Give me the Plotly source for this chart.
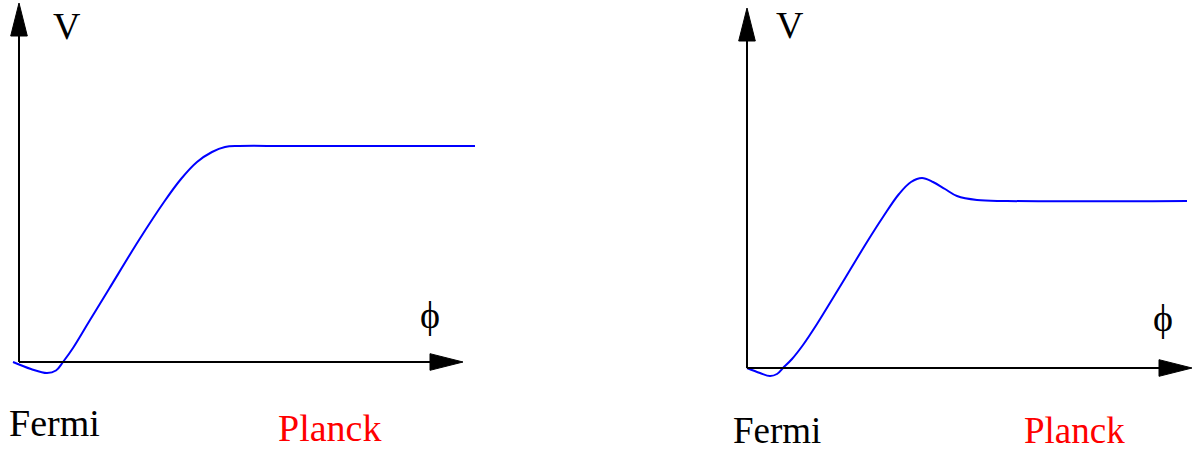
import plotly.graph_objects as go

# potential curves (phi, V); 1 unit = 100 px
left_phi = [-0.06, 0.12, 0.28, 0.37, 0.44, 0.54, 0.71, 0.90, 1.20, 1.45, 1.62, 1.78,
            1.93, 2.06, 2.20, 2.70, 4.56]
left_v = [0.0, -0.07, -0.11, -0.085, 0.0, 0.14, 0.42, 0.73, 1.22, 1.60, 1.83, 2.00,
          2.10, 2.15, 2.16, 2.16, 2.16]

right_phi = [0.0, 0.13, 0.23, 0.30, 0.36, 0.45, 0.56, 0.70, 0.86, 1.03, 1.20, 1.36,
             1.52, 1.64, 1.75, 1.86, 1.98, 2.10, 2.30, 2.60, 4.40]
right_v = [0.0, -0.05, -0.08, -0.06, 0.0, 0.09, 0.23, 0.44, 0.70, 0.98, 1.26, 1.51,
           1.74, 1.86, 1.90, 1.86, 1.79, 1.72, 1.68, 1.67, 1.67]

# axis extents (tip of each arrow) per panel
axis_tips = {"left": (4.44, 3.59), "right": (4.45, 3.60)}

# label text, position and size per panel
labels_left = [("V", 0.475, 3.365, 38), ("ϕ", 4.11, 0.47, 38),
               ("Fermi", 0.355, -0.605, 38), ("Planck", 3.10, -0.655, 38)]
labels_right = [("V", 0.43, 3.43, 38), ("ϕ", 4.16, 0.50, 38),
                ("Fermi", 0.297, -0.625, 37), ("Planck", 3.27, -0.625, 37)]

FONT = '"Liberation Serif", "Times New Roman", Times, serif'
ARROW_LEN = 0.33
ARROW_HALF = 0.083

fig = go.Figure()
fig.add_trace(go.Scatter(x=left_phi, y=left_v, mode="lines", xaxis="x", yaxis="y",
                         line=dict(color="#0000ff", width=2, shape="spline", smoothing=1.0),
                         showlegend=False, hoverinfo="skip"))
fig.add_trace(go.Scatter(x=right_phi, y=right_v, mode="lines", xaxis="x2", yaxis="y2",
                         line=dict(color="#0000ff", width=2, shape="spline", smoothing=1.0),
                         showlegend=False, hoverinfo="skip"))

shapes = []
annotations = []
for panel, xr, yr, labels in [("left", "x", "y", labels_left), ("right", "x2", "y2", labels_right)]:
    tx, ty = axis_tips[panel]
    # axis lines
    shapes.append(dict(type="line", xref=xr, yref=yr, x0=0, y0=0, x1=tx - ARROW_LEN + 0.02, y1=0,
                       line=dict(color="black", width=2)))
    shapes.append(dict(type="line", xref=xr, yref=yr, x0=0, y0=0, x1=0, y1=ty - ARROW_LEN + 0.02,
                       line=dict(color="black", width=2)))
    # arrowheads
    bx = tx - ARROW_LEN
    shapes.append(dict(type="path", xref=xr, yref=yr,
                       path=f"M {bx},{-ARROW_HALF} L {tx},0 L {bx},{ARROW_HALF} Z",
                       fillcolor="black", line=dict(color="black", width=1)))
    by = ty - ARROW_LEN
    shapes.append(dict(type="path", xref=xr, yref=yr,
                       path=f"M {-ARROW_HALF},{by} L 0,{ty} L {ARROW_HALF},{by} Z",
                       fillcolor="black", line=dict(color="black", width=1)))
    for text, lx, ly, size in labels:
        annotations.append(dict(text=text, x=lx, y=ly, xref=xr, yref=yr, showarrow=False,
                                xanchor="center", yanchor="middle",
                                font=dict(family=FONT, size=size,
                                          color="#ff0000" if text == "Planck" else "black")))

hidden = dict(visible=False, showgrid=False, zeroline=False, fixedrange=True)
fig.update_layout(
    width=1198,
    height=450,
    margin=dict(l=0, r=0, t=0, b=0),
    paper_bgcolor="white",
    plot_bgcolor="white",
    font=dict(family=FONT),
    xaxis=dict(domain=[0, 600 / 1198], range=[-0.19, 5.81], **hidden),
    yaxis=dict(domain=[0, 1], range=[-0.88, 3.62], **hidden),
    xaxis2=dict(domain=[600 / 1198, 1], range=[-1.47, 4.51], anchor="y2", **hidden),
    yaxis2=dict(domain=[0, 1], range=[-0.82, 3.68], anchor="x2", **hidden),
    shapes=shapes,
    annotations=annotations,
)

fig.write_html("out.html", config={"displayModeBar": False},
               post_script="document.body.style.margin='0';")
